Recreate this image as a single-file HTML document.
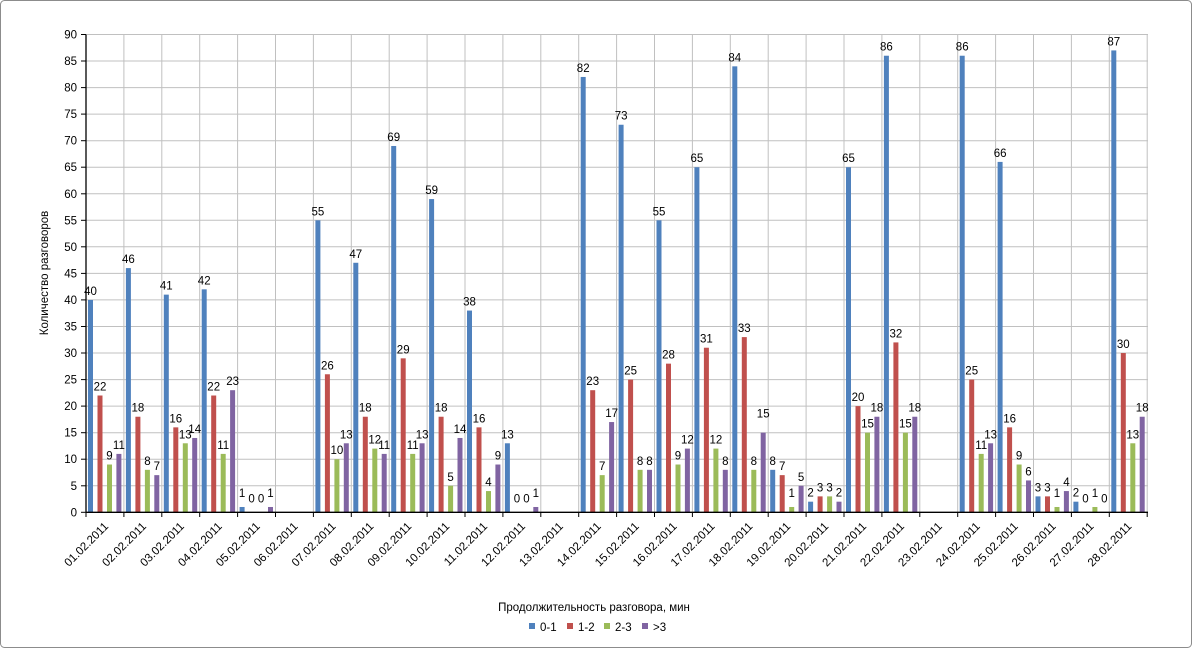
<!DOCTYPE html>
<html><head><meta charset="utf-8"><style>
body{margin:0;background:#fff;}
svg{display:block;font-family:"Liberation Sans",Arial,sans-serif;}
</style></head><body>
<svg width="1192" height="648" viewBox="0 0 1192 648" xmlns="http://www.w3.org/2000/svg">
<rect x="0.5" y="0.5" width="1191" height="647" rx="4" fill="#fff" stroke="#8c8c8c"/>
<g stroke="#c0c0c0" stroke-width="1">
<line x1="86" y1="34.5" x2="1148" y2="34.5"/><line x1="86" y1="61" x2="1148" y2="61"/><line x1="86" y1="87.6" x2="1148" y2="87.6"/><line x1="86" y1="114.1" x2="1148" y2="114.1"/><line x1="86" y1="140.7" x2="1148" y2="140.7"/><line x1="86" y1="167.2" x2="1148" y2="167.2"/><line x1="86" y1="193.8" x2="1148" y2="193.8"/><line x1="86" y1="220.3" x2="1148" y2="220.3"/><line x1="86" y1="246.8" x2="1148" y2="246.8"/><line x1="86" y1="273.4" x2="1148" y2="273.4"/><line x1="86" y1="299.9" x2="1148" y2="299.9"/><line x1="86" y1="326.5" x2="1148" y2="326.5"/><line x1="86" y1="353" x2="1148" y2="353"/><line x1="86" y1="379.6" x2="1148" y2="379.6"/><line x1="86" y1="406.1" x2="1148" y2="406.1"/><line x1="86" y1="432.7" x2="1148" y2="432.7"/><line x1="86" y1="459.2" x2="1148" y2="459.2"/><line x1="86" y1="485.8" x2="1148" y2="485.8"/>
<line x1="123.9" y1="34.5" x2="123.9" y2="512"/><line x1="161.8" y1="34.5" x2="161.8" y2="512"/><line x1="199.7" y1="34.5" x2="199.7" y2="512"/><line x1="237.6" y1="34.5" x2="237.6" y2="512"/><line x1="275.5" y1="34.5" x2="275.5" y2="512"/><line x1="313.4" y1="34.5" x2="313.4" y2="512"/><line x1="351.3" y1="34.5" x2="351.3" y2="512"/><line x1="389.2" y1="34.5" x2="389.2" y2="512"/><line x1="427.1" y1="34.5" x2="427.1" y2="512"/><line x1="465" y1="34.5" x2="465" y2="512"/><line x1="502.9" y1="34.5" x2="502.9" y2="512"/><line x1="540.8" y1="34.5" x2="540.8" y2="512"/><line x1="578.7" y1="34.5" x2="578.7" y2="512"/><line x1="616.6" y1="34.5" x2="616.6" y2="512"/><line x1="654.5" y1="34.5" x2="654.5" y2="512"/><line x1="692.4" y1="34.5" x2="692.4" y2="512"/><line x1="730.3" y1="34.5" x2="730.3" y2="512"/><line x1="768.2" y1="34.5" x2="768.2" y2="512"/><line x1="806.1" y1="34.5" x2="806.1" y2="512"/><line x1="844" y1="34.5" x2="844" y2="512"/><line x1="881.9" y1="34.5" x2="881.9" y2="512"/><line x1="919.8" y1="34.5" x2="919.8" y2="512"/><line x1="957.7" y1="34.5" x2="957.7" y2="512"/><line x1="995.6" y1="34.5" x2="995.6" y2="512"/><line x1="1033.5" y1="34.5" x2="1033.5" y2="512"/><line x1="1071.4" y1="34.5" x2="1071.4" y2="512"/><line x1="1109.3" y1="34.5" x2="1109.3" y2="512"/><line x1="1147.2" y1="34.5" x2="1147.2" y2="512"/>
</g>
<g transform="translate(0,512.3) scale(1,-5.309)">
<g fill="#4f81bd">
<rect x="88" y="0" width="5" height="40"/><rect x="125.9" y="0" width="5" height="46"/><rect x="163.8" y="0" width="5" height="41"/><rect x="201.7" y="0" width="5" height="42"/><rect x="239.6" y="0" width="5" height="1"/><rect x="315.4" y="0" width="5" height="55"/><rect x="353.3" y="0" width="5" height="47"/><rect x="391.2" y="0" width="5" height="69"/><rect x="429.1" y="0" width="5" height="59"/><rect x="467" y="0" width="5" height="38"/><rect x="504.9" y="0" width="5" height="13"/><rect x="580.7" y="0" width="5" height="82"/><rect x="618.6" y="0" width="5" height="73"/><rect x="656.5" y="0" width="5" height="55"/><rect x="694.4" y="0" width="5" height="65"/><rect x="732.3" y="0" width="5" height="84"/><rect x="770.2" y="0" width="5" height="8"/><rect x="808.1" y="0" width="5" height="2"/><rect x="846" y="0" width="5" height="65"/><rect x="883.9" y="0" width="5" height="86"/><rect x="959.7" y="0" width="5" height="86"/><rect x="997.6" y="0" width="5" height="66"/><rect x="1035.5" y="0" width="5" height="3"/><rect x="1073.4" y="0" width="5" height="2"/><rect x="1111.3" y="0" width="5" height="87"/>
</g>
<g fill="#c0504d">
<rect x="97.5" y="0" width="5" height="22"/><rect x="135.4" y="0" width="5" height="18"/><rect x="173.3" y="0" width="5" height="16"/><rect x="211.2" y="0" width="5" height="22"/><rect x="324.9" y="0" width="5" height="26"/><rect x="362.8" y="0" width="5" height="18"/><rect x="400.7" y="0" width="5" height="29"/><rect x="438.6" y="0" width="5" height="18"/><rect x="476.5" y="0" width="5" height="16"/><rect x="590.2" y="0" width="5" height="23"/><rect x="628.1" y="0" width="5" height="25"/><rect x="666" y="0" width="5" height="28"/><rect x="703.9" y="0" width="5" height="31"/><rect x="741.8" y="0" width="5" height="33"/><rect x="779.7" y="0" width="5" height="7"/><rect x="817.6" y="0" width="5" height="3"/><rect x="855.5" y="0" width="5" height="20"/><rect x="893.4" y="0" width="5" height="32"/><rect x="969.2" y="0" width="5" height="25"/><rect x="1007.1" y="0" width="5" height="16"/><rect x="1045" y="0" width="5" height="3"/><rect x="1120.8" y="0" width="5" height="30"/>
</g>
<g fill="#9bbb59">
<rect x="107" y="0" width="5" height="9"/><rect x="144.9" y="0" width="5" height="8"/><rect x="182.8" y="0" width="5" height="13"/><rect x="220.7" y="0" width="5" height="11"/><rect x="334.4" y="0" width="5" height="10"/><rect x="372.3" y="0" width="5" height="12"/><rect x="410.2" y="0" width="5" height="11"/><rect x="448.1" y="0" width="5" height="5"/><rect x="486" y="0" width="5" height="4"/><rect x="599.7" y="0" width="5" height="7"/><rect x="637.6" y="0" width="5" height="8"/><rect x="675.5" y="0" width="5" height="9"/><rect x="713.4" y="0" width="5" height="12"/><rect x="751.3" y="0" width="5" height="8"/><rect x="789.2" y="0" width="5" height="1"/><rect x="827.1" y="0" width="5" height="3"/><rect x="865" y="0" width="5" height="15"/><rect x="902.9" y="0" width="5" height="15"/><rect x="978.7" y="0" width="5" height="11"/><rect x="1016.6" y="0" width="5" height="9"/><rect x="1054.5" y="0" width="5" height="1"/><rect x="1092.4" y="0" width="5" height="1"/><rect x="1130.3" y="0" width="5" height="13"/>
</g>
<g fill="#8064a2">
<rect x="116.4" y="0" width="5" height="11"/><rect x="154.3" y="0" width="5" height="7"/><rect x="192.2" y="0" width="5" height="14"/><rect x="230.1" y="0" width="5" height="23"/><rect x="268" y="0" width="5" height="1"/><rect x="343.8" y="0" width="5" height="13"/><rect x="381.7" y="0" width="5" height="11"/><rect x="419.6" y="0" width="5" height="13"/><rect x="457.5" y="0" width="5" height="14"/><rect x="495.4" y="0" width="5" height="9"/><rect x="533.3" y="0" width="5" height="1"/><rect x="609.1" y="0" width="5" height="17"/><rect x="647" y="0" width="5" height="8"/><rect x="684.9" y="0" width="5" height="12"/><rect x="722.8" y="0" width="5" height="8"/><rect x="760.7" y="0" width="5" height="15"/><rect x="798.6" y="0" width="5" height="5"/><rect x="836.5" y="0" width="5" height="2"/><rect x="874.4" y="0" width="5" height="18"/><rect x="912.3" y="0" width="5" height="18"/><rect x="988.1" y="0" width="5" height="13"/><rect x="1026" y="0" width="5" height="6"/><rect x="1063.9" y="0" width="5" height="4"/><rect x="1139.7" y="0" width="5" height="18"/>
</g>
</g>
<g stroke="#000" stroke-width="1.3">
<line x1="86" y1="34.5" x2="86" y2="512.3"/><line x1="86" y1="512.3" x2="1148" y2="512.3"/>
</g>
<g stroke="#000" stroke-width="1">
<line x1="81" y1="34.5" x2="86" y2="34.5"/><line x1="81" y1="61" x2="86" y2="61"/><line x1="81" y1="87.6" x2="86" y2="87.6"/><line x1="81" y1="114.1" x2="86" y2="114.1"/><line x1="81" y1="140.7" x2="86" y2="140.7"/><line x1="81" y1="167.2" x2="86" y2="167.2"/><line x1="81" y1="193.8" x2="86" y2="193.8"/><line x1="81" y1="220.3" x2="86" y2="220.3"/><line x1="81" y1="246.8" x2="86" y2="246.8"/><line x1="81" y1="273.4" x2="86" y2="273.4"/><line x1="81" y1="299.9" x2="86" y2="299.9"/><line x1="81" y1="326.5" x2="86" y2="326.5"/><line x1="81" y1="353" x2="86" y2="353"/><line x1="81" y1="379.6" x2="86" y2="379.6"/><line x1="81" y1="406.1" x2="86" y2="406.1"/><line x1="81" y1="432.7" x2="86" y2="432.7"/><line x1="81" y1="459.2" x2="86" y2="459.2"/><line x1="81" y1="485.8" x2="86" y2="485.8"/><line x1="81" y1="512.3" x2="86" y2="512.3"/>
<line x1="86" y1="512" x2="86" y2="517"/><line x1="123.9" y1="512" x2="123.9" y2="517"/><line x1="161.8" y1="512" x2="161.8" y2="517"/><line x1="199.7" y1="512" x2="199.7" y2="517"/><line x1="237.6" y1="512" x2="237.6" y2="517"/><line x1="275.5" y1="512" x2="275.5" y2="517"/><line x1="313.4" y1="512" x2="313.4" y2="517"/><line x1="351.3" y1="512" x2="351.3" y2="517"/><line x1="389.2" y1="512" x2="389.2" y2="517"/><line x1="427.1" y1="512" x2="427.1" y2="517"/><line x1="465" y1="512" x2="465" y2="517"/><line x1="502.9" y1="512" x2="502.9" y2="517"/><line x1="540.8" y1="512" x2="540.8" y2="517"/><line x1="578.7" y1="512" x2="578.7" y2="517"/><line x1="616.6" y1="512" x2="616.6" y2="517"/><line x1="654.5" y1="512" x2="654.5" y2="517"/><line x1="692.4" y1="512" x2="692.4" y2="517"/><line x1="730.3" y1="512" x2="730.3" y2="517"/><line x1="768.2" y1="512" x2="768.2" y2="517"/><line x1="806.1" y1="512" x2="806.1" y2="517"/><line x1="844" y1="512" x2="844" y2="517"/><line x1="881.9" y1="512" x2="881.9" y2="517"/><line x1="919.8" y1="512" x2="919.8" y2="517"/><line x1="957.7" y1="512" x2="957.7" y2="517"/><line x1="995.6" y1="512" x2="995.6" y2="517"/><line x1="1033.5" y1="512" x2="1033.5" y2="517"/><line x1="1071.4" y1="512" x2="1071.4" y2="517"/><line x1="1109.3" y1="512" x2="1109.3" y2="517"/><line x1="1147.2" y1="512" x2="1147.2" y2="517"/>
</g>
<g font-size="11.5" fill="#000" text-anchor="end">
<text x="77" y="38.5">90</text><text x="77" y="65">85</text><text x="77" y="91.6">80</text><text x="77" y="118.1">75</text><text x="77" y="144.7">70</text><text x="77" y="171.2">65</text><text x="77" y="197.8">60</text><text x="77" y="224.3">55</text><text x="77" y="250.8">50</text><text x="77" y="277.4">45</text><text x="77" y="303.9">40</text><text x="77" y="330.5">35</text><text x="77" y="357">30</text><text x="77" y="383.6">25</text><text x="77" y="410.1">20</text><text x="77" y="436.7">15</text><text x="77" y="463.2">10</text><text x="77" y="489.8">5</text><text x="77" y="516.3">0</text>
</g>
<g font-size="11.5" fill="#000" text-anchor="end">
<text transform="translate(109,527) rotate(-45)">01.02.2011</text><text transform="translate(146.9,527) rotate(-45)">02.02.2011</text><text transform="translate(184.8,527) rotate(-45)">03.02.2011</text><text transform="translate(222.7,527) rotate(-45)">04.02.2011</text><text transform="translate(260.6,527) rotate(-45)">05.02.2011</text><text transform="translate(298.5,527) rotate(-45)">06.02.2011</text><text transform="translate(336.4,527) rotate(-45)">07.02.2011</text><text transform="translate(374.3,527) rotate(-45)">08.02.2011</text><text transform="translate(412.2,527) rotate(-45)">09.02.2011</text><text transform="translate(450.1,527) rotate(-45)">10.02.2011</text><text transform="translate(488,527) rotate(-45)">11.02.2011</text><text transform="translate(525.9,527) rotate(-45)">12.02.2011</text><text transform="translate(563.8,527) rotate(-45)">13.02.2011</text><text transform="translate(601.7,527) rotate(-45)">14.02.2011</text><text transform="translate(639.6,527) rotate(-45)">15.02.2011</text><text transform="translate(677.5,527) rotate(-45)">16.02.2011</text><text transform="translate(715.4,527) rotate(-45)">17.02.2011</text><text transform="translate(753.3,527) rotate(-45)">18.02.2011</text><text transform="translate(791.2,527) rotate(-45)">19.02.2011</text><text transform="translate(829.1,527) rotate(-45)">20.02.2011</text><text transform="translate(867,527) rotate(-45)">21.02.2011</text><text transform="translate(904.9,527) rotate(-45)">22.02.2011</text><text transform="translate(942.8,527) rotate(-45)">23.02.2011</text><text transform="translate(980.7,527) rotate(-45)">24.02.2011</text><text transform="translate(1018.6,527) rotate(-45)">25.02.2011</text><text transform="translate(1056.5,527) rotate(-45)">26.02.2011</text><text transform="translate(1094.4,527) rotate(-45)">27.02.2011</text><text transform="translate(1132.3,527) rotate(-45)">28.02.2011</text>
</g>
<g font-size="11.5" fill="#000" text-anchor="middle">
<text x="90.5" y="294.9">40</text><text x="100" y="390.5">22</text><text x="109.5" y="459.5">9</text><text x="118.9" y="448.9">11</text>
<text x="128.4" y="263.1">46</text><text x="137.9" y="411.7">18</text><text x="147.4" y="464.8">8</text><text x="156.8" y="470.1">7</text>
<text x="166.3" y="289.6">41</text><text x="175.8" y="422.4">16</text><text x="185.3" y="438.3">13</text><text x="194.7" y="433">14</text>
<text x="204.2" y="284.3">42</text><text x="213.7" y="390.5">22</text><text x="223.2" y="448.9">11</text><text x="232.6" y="385.2">23</text>
<text x="242.1" y="497">1</text><text x="251.6" y="502.3">0</text><text x="261.1" y="502.3">0</text><text x="270.5" y="497">1</text>
<text x="317.9" y="215.3">55</text><text x="327.4" y="369.3">26</text><text x="336.9" y="454.2">10</text><text x="346.3" y="438.3">13</text>
<text x="355.8" y="257.8">47</text><text x="365.3" y="411.7">18</text><text x="374.8" y="443.6">12</text><text x="384.2" y="448.9">11</text>
<text x="393.7" y="141">69</text><text x="403.2" y="353.3">29</text><text x="412.7" y="448.9">11</text><text x="422.1" y="438.3">13</text>
<text x="431.6" y="194.1">59</text><text x="441.1" y="411.7">18</text><text x="450.6" y="480.8">5</text><text x="460" y="433">14</text>
<text x="469.5" y="305.6">38</text><text x="479" y="422.4">16</text><text x="488.5" y="486.1">4</text><text x="497.9" y="459.5">9</text>
<text x="507.4" y="438.3">13</text><text x="516.9" y="502.3">0</text><text x="526.4" y="502.3">0</text><text x="535.8" y="497">1</text>
<text x="583.2" y="72">82</text><text x="592.7" y="385.2">23</text><text x="602.2" y="470.1">7</text><text x="611.6" y="417.1">17</text>
<text x="621.1" y="119.7">73</text><text x="630.6" y="374.6">25</text><text x="640.1" y="464.8">8</text><text x="649.5" y="464.8">8</text>
<text x="659" y="215.3">55</text><text x="668.5" y="358.6">28</text><text x="678" y="459.5">9</text><text x="687.4" y="443.6">12</text>
<text x="696.9" y="162.2">65</text><text x="706.4" y="342.7">31</text><text x="715.9" y="443.6">12</text><text x="725.3" y="464.8">8</text>
<text x="734.8" y="61.4">84</text><text x="744.3" y="332.1">33</text><text x="753.8" y="464.8">8</text><text x="763.2" y="417.7">15</text>
<text x="772.7" y="464.8">8</text><text x="782.2" y="470.1">7</text><text x="791.7" y="497">1</text><text x="801.1" y="480.8">5</text>
<text x="810.6" y="496.7">2</text><text x="820.1" y="491.4">3</text><text x="829.6" y="491.4">3</text><text x="839" y="496.7">2</text>
<text x="848.5" y="162.2">65</text><text x="858" y="401.1">20</text><text x="867.5" y="427.7">15</text><text x="876.9" y="411.7">18</text>
<text x="886.4" y="50.7">86</text><text x="895.9" y="337.4">32</text><text x="905.4" y="427.7">15</text><text x="914.8" y="411.7">18</text>
<text x="962.2" y="50.7">86</text><text x="971.7" y="374.6">25</text><text x="981.2" y="448.9">11</text><text x="990.6" y="438.3">13</text>
<text x="1000.1" y="156.9">66</text><text x="1009.6" y="422.4">16</text><text x="1019.1" y="459.5">9</text><text x="1028.5" y="475.4">6</text>
<text x="1038" y="491.4">3</text><text x="1047.5" y="491.4">3</text><text x="1057" y="497">1</text><text x="1066.4" y="486.1">4</text>
<text x="1075.9" y="496.7">2</text><text x="1085.4" y="502.3">0</text><text x="1094.9" y="497">1</text><text x="1104.3" y="502.3">0</text>
<text x="1113.8" y="45.4">87</text><text x="1123.3" y="348">30</text><text x="1132.8" y="438.3">13</text><text x="1142.2" y="411.7">18</text>
</g>
<text transform="translate(48,273) rotate(-90)" font-size="11.5" text-anchor="middle">Количество разговоров</text>
<text x="594" y="611" font-size="11.5" text-anchor="middle">Продолжительность разговора, мин</text>
<g font-size="11.5">
<rect x="529" y="623" width="6" height="6" fill="#4f81bd"/><text x="540" y="631">0-1</text>
<rect x="567" y="623" width="6" height="6" fill="#c0504d"/><text x="578" y="631">1-2</text>
<rect x="604" y="623" width="6" height="6" fill="#9bbb59"/><text x="615" y="631">2-3</text>
<rect x="642" y="623" width="6" height="6" fill="#8064a2"/><text x="653" y="631">&gt;3</text>
</g>
</svg>
</body></html>
